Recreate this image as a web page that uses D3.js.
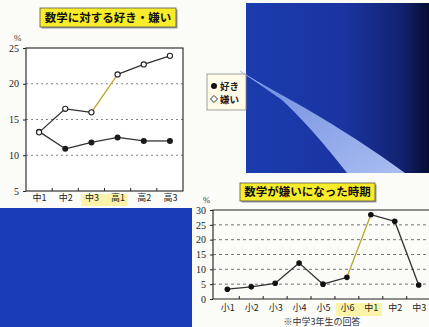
<!DOCTYPE html>
<html><head><meta charset="utf-8">
<script src="https://cdn.jsdelivr.net/npm/d3@7"></script>
<style>html,body{margin:0;padding:0;background:#fbfbf8;}svg{display:block;}</style>
</head><body>
<svg id="c" width="429" height="327"></svg>
<script>
// ---- data ----
const grades1 = ["中1","中2","中3","高1","高2","高3"];
const likeVals = [13.3, 10.9, 11.8, 12.5, 12.0, 12.0];
const dislikeVals = [13.2, 16.5, 16.0, 21.3, 22.7, 23.9];
const yTicks1 = [5, 10, 15, 20, 25];
const title1 = "数学に対する好き・嫌い";
const legendLabels = ["好き", "嫌い"];

const grades2 = ["小1","小2","小3","小4","小5","小6","中1","中2","中3"];
const onsetVals = [3.3, 4.1, 5.3, 12.1, 5.0, 7.3, 28.4, 26.2, 4.7];
const yTicks2 = [0, 5, 10, 15, 20, 25, 30];
const title2 = "数学が嫌いになった時期";
const note2 = "※中学3年生の回答";

const svg = d3.select("#c");
const jp = "'Noto Sans CJK JP', sans-serif";
const serif = "'Liberation Serif', 'DejaVu Serif', serif";
const defs = svg.append("defs");

// ---- decorative blue blocks ----
const g1 = defs.append("linearGradient").attr("id","bg1").attr("x1","0").attr("x2","1").attr("y1","0").attr("y2","0");
g1.append("stop").attr("offset","0").attr("stop-color","#1b3cae");
g1.append("stop").attr("offset","0.55").attr("stop-color","#1a34a0");
g1.append("stop").attr("offset","0.85").attr("stop-color","#122270");
g1.append("stop").attr("offset","1").attr("stop-color","#080c30");
svg.append("rect").attr("x",246).attr("y",3).attr("width",183).attr("height",170).attr("fill","url(#bg1)");
const g2 = defs.append("linearGradient").attr("id","wedge").attr("x1","0").attr("x2","1").attr("y1","0").attr("y2","1");
g2.append("stop").attr("offset","0").attr("stop-color","#6f8ee0");
g2.append("stop").attr("offset","1").attr("stop-color","#a9bdf0");
svg.append("path").attr("d","M246,75 L305,108 Q360,140 405,173 L347,173 Q312,128 282,100 Z").attr("fill","url(#wedge)");
svg.append("line").attr("x1",240).attr("y1",71).attr("x2",262).attr("y2",85).attr("stroke","#9fb4ee").attr("stroke-width",0.8);
svg.append("rect").attr("x",0).attr("y",208).attr("width",192).attr("height",119).attr("fill","#1a3cb6");

// ---- title box helper ----
function titleBox(x, y, w, h, text){
  svg.append("rect").attr("x",x+1.5).attr("y",y+1.5).attr("width",w).attr("height",h).attr("fill","#999");
  svg.append("rect").attr("x",x).attr("y",y).attr("width",w).attr("height",h).attr("fill","#f9ec2a").attr("stroke","#555").attr("stroke-width",0.8);
  svg.append("text").attr("x",x+w/2).attr("y",y+h/2+4.2).attr("text-anchor","middle")
    .attr("font-family",jp).attr("font-weight","bold").attr("font-size",11.5).attr("fill","#111").text(text);
}

// ---- chart 1 ----
const L = {left:26, right:183, top:48, bottom:191};
const x1 = d3.scalePoint().domain(grades1).range([L.left, L.right]).padding(0.5);
const y1 = d3.scaleLinear().domain([5,25]).range([L.bottom, L.top]);
titleBox(40, 8, 136, 19, title1);
svg.append("rect").attr("x",x1("中3")-10).attr("y",194).attr("width",x1("高1")-x1("中3")+20).attr("height",12).attr("fill","#fbf3a8");
svg.append("rect").attr("x",L.left).attr("y",L.top).attr("width",L.right-L.left).attr("height",L.bottom-L.top).attr("fill","#ffffff");
svg.append("g").selectAll("line").data(yTicks1.filter(d=>d>5 && d<25)).join("line")
  .attr("x1",L.left).attr("x2",L.right).attr("y1",d=>y1(d)).attr("y2",d=>y1(d))
  .attr("stroke","#777").attr("stroke-dasharray","2,3").attr("stroke-width",0.9);
svg.append("rect").attr("x",L.left).attr("y",L.top).attr("width",L.right-L.left).attr("height",L.bottom-L.top)
  .attr("fill","none").attr("stroke","#222").attr("stroke-width",1.1);
const ax1 = svg.append("g").attr("transform",`translate(${L.left},0)`)
  .call(d3.axisLeft(y1).tickValues(yTicks1).tickSize(3).tickFormat(d3.format("d")));
ax1.select(".domain").remove();
ax1.selectAll("line").attr("stroke","#222");
ax1.selectAll("text").attr("font-family",serif).attr("font-size",10).attr("fill","#222").attr("dx",-1);
svg.append("text").attr("x",14).attr("y",41).attr("font-family",serif).attr("font-size",9).attr("fill","#333").text("%");
const bx1 = svg.append("g").attr("transform",`translate(0,${L.bottom})`)
  .call(d3.axisBottom(x1).tickSize(0).tickPadding(4));
bx1.select(".domain").remove();
bx1.selectAll("text").attr("font-family",jp).attr("font-size",9).attr("fill","#222");
const step1 = x1.step();
svg.append("g").selectAll("line").data(grades1.slice(1)).join("line")
  .attr("x1",d=>x1(d)-step1/2).attr("x2",d=>x1(d)-step1/2).attr("y1",L.bottom).attr("y2",L.bottom-3)
  .attr("stroke","#222");
function drawSeries(vals, xs, ys, hiIdx){
  for(let i=0;i<vals.length-1;i++){
    svg.append("line").attr("x1",xs(i)).attr("y1",ys(vals[i])).attr("x2",xs(i+1)).attr("y2",ys(vals[i+1]))
      .attr("stroke", i===hiIdx ? "#b8a830" : "#333").attr("stroke-width",1.3);
  }
}
drawSeries(dislikeVals, i=>x1(grades1[i]), y1, 2);
drawSeries(likeVals, i=>x1(grades1[i]), y1, -1);
svg.append("g").selectAll("circle").data(likeVals).join("circle")
  .attr("cx",(d,i)=>x1(grades1[i])).attr("cy",d=>y1(d)).attr("r",3).attr("fill","#1a1a1a");
svg.append("g").selectAll("circle").data(dislikeVals).join("circle")
  .attr("cx",(d,i)=>x1(grades1[i])).attr("cy",d=>y1(d)).attr("r",2.6).attr("fill","#fff").attr("stroke","#222").attr("stroke-width",1.1);

// legend
svg.append("rect").attr("x",207).attr("y",74).attr("width",39).attr("height",36).attr("fill","#fffbe8").attr("stroke","#888").attr("stroke-width",0.8);
svg.append("circle").attr("cx",214).attr("cy",86).attr("r",3).attr("fill","#111");
svg.append("path").attr("d","M214,95.5 L217.5,99 L214,102.5 L210.5,99 Z").attr("fill","#fff").attr("stroke","#333").attr("stroke-width",1);
svg.selectAll(".lg").data(legendLabels).join("text").attr("class","lg")
  .attr("x",220).attr("y",(d,i)=>89.5+i*13).attr("font-family",jp).attr("font-weight","bold").attr("font-size",9.5).attr("fill","#222").text(d=>d);

// ---- chart 2 ----
const R = {left:213, right:429, top:210, bottom:299};
const x2 = d3.scalePoint().domain(grades2).range([R.left, 433]).padding(0.6);
const y2 = d3.scaleLinear().domain([0,30]).range([R.bottom, R.top]);
titleBox(240, 183, 135, 18, title2);
svg.append("rect").attr("x",x2("小6")-11).attr("y",303).attr("width",x2("中1")-x2("小6")+22).attr("height",13).attr("fill","#fbf3a8");
svg.append("g").selectAll("line").data(yTicks2.filter(d=>d>0 && d<30)).join("line")
  .attr("x1",R.left).attr("x2",R.right).attr("y1",d=>y2(d)).attr("y2",d=>y2(d))
  .attr("stroke","#666").attr("stroke-dasharray","3,3").attr("stroke-width",0.9);
svg.append("path").attr("d",`M${R.right},${R.top} H${R.left} V${R.bottom} H${R.right}`).attr("fill","none").attr("stroke","#222").attr("stroke-width",1.1);
const ax2 = svg.append("g").attr("transform",`translate(${R.left},0)`)
  .call(d3.axisLeft(y2).tickValues(yTicks2).tickSize(3).tickFormat(d3.format("d")));
ax2.select(".domain").remove();
ax2.selectAll("line").attr("stroke","#222");
ax2.selectAll("text").attr("font-family",serif).attr("font-size",10).attr("fill","#222").attr("dx",-1);
svg.append("text").attr("x",203).attr("y",203).attr("font-family",serif).attr("font-size",8.5).attr("fill","#333").text("%");
const bx2 = svg.append("g").attr("transform",`translate(0,${R.bottom})`)
  .call(d3.axisBottom(x2).tickSize(0).tickPadding(6));
bx2.select(".domain").remove();
bx2.selectAll("text").attr("font-family",jp).attr("font-size",9).attr("fill","#222");
const step2 = x2.step();
svg.append("g").selectAll("line").data(grades2.slice(1)).join("line")
  .attr("x1",d=>x2(d)-step2/2).attr("x2",d=>x2(d)-step2/2).attr("y1",R.bottom).attr("y2",R.bottom-3)
  .attr("stroke","#222");
drawSeries(onsetVals, i=>x2(grades2[i]), y2, 5);
svg.append("g").selectAll("circle").data(onsetVals).join("circle")
  .attr("cx",(d,i)=>x2(grades2[i])).attr("cy",d=>y2(d)).attr("r",2.8).attr("fill","#111");
svg.append("text").attr("x",322).attr("y",325).attr("text-anchor","middle").attr("font-family",jp).attr("font-size",9).attr("fill","#333").text(note2);
</script>
</body></html>
